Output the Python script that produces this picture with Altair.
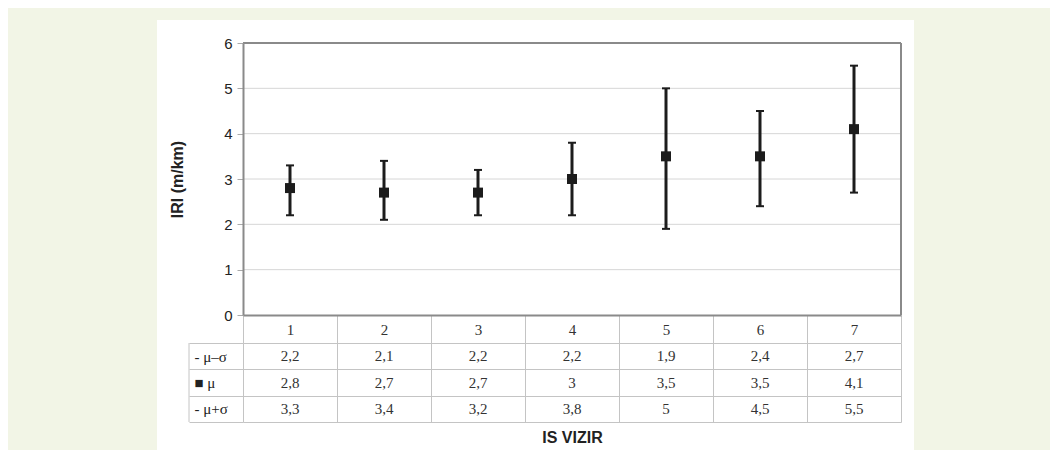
import altair as alt
import pandas as pd

cats = ["1", "2", "3", "4", "5", "6", "7"]
low = [2.2, 2.1, 2.2, 2.2, 1.9, 2.4, 2.7]
mean = [2.8, 2.7, 2.7, 3.0, 3.5, 3.5, 4.1]
high = [3.3, 3.4, 3.2, 3.8, 5.0, 4.5, 5.5]
y_ticks = [0, 1, 2, 3, 4, 5, 6]
row_labels = ["- μ–σ", "■ μ", "- μ+σ"]
y_title = "IRI (m/km)"
x_title = "IS VIZIR"


def fmt(v):
    return f"{v:g}".replace(".", ",")


df = pd.DataFrame({"cat": cats, "low": low, "mean": mean, "high": high})
rows = []
for lab, series in zip(row_labels, [low, mean, high]):
    for c, v in zip(cats, series):
        rows.append({"cat": c, "row": lab, "label": fmt(v)})
tdf = pd.DataFrame(rows)

W, H = 658, 272
TH = 79
GRIDC = "#d6d6d6"
TABC = "#c4c4c4"
AXC = "#8a8a8a"
INK = "#1c1c1c"
SANS = "Liberation Sans"
SERIF = "Liberation Serif"

xscale = alt.Scale(domain=cats, paddingInner=0, paddingOuter=0)
yscale = alt.Scale(domain=[0, 6], nice=False)

yaxis = alt.Axis(
    values=y_ticks,
    title=y_title,
    titleFont=SANS,
    titleFontSize=16,
    titleFontWeight="bold",
    titleColor="#222",
    titlePadding=38,
    labelFont=SANS,
    labelFontSize=15,
    labelColor="#222",
    labelPadding=5,
    tickSize=6,
    tickColor="#aaa",
    domainColor=AXC,
    domainWidth=2,
    grid=False,
    zindex=1,
)

xaxis_top = alt.Axis(
    title=None,
    labelFont=SERIF,
    labelFontSize=15,
    labelColor="#333",
    labelAngle=0,
    labelBaseline="middle",
    labelPadding=-14,
    tickBand="extent",
    tickSize=28,
    tickColor=TABC,
    tickWidth=1,
    domainColor=AXC,
    domainWidth=2,
    grid=False,
    zindex=1,
)

one = pd.DataFrame({"a": [0]})

panel = alt.Chart(one).mark_rect(fill="white").encode(
    x=alt.value(-86), x2=alt.value(671), y=alt.value(-23), y2=alt.value(407)
)

grid = alt.Chart(pd.DataFrame({"v": y_ticks[1:-1]})).mark_rule(
    color=GRIDC, strokeWidth=1
).encode(y=alt.Y("v:Q", scale=yscale, axis=yaxis))

top_border = alt.Chart(pd.DataFrame({"v": y_ticks[-1:]})).mark_rule(
    color=AXC, strokeWidth=2
).encode(y=alt.Y("v:Q", scale=yscale, axis=yaxis))

right_border = alt.Chart(one).mark_rule(color=AXC, strokeWidth=2).encode(
    x=alt.value(W), y=alt.value(0), y2=alt.value(H)
)

bars = alt.Chart(df).mark_rule(color=INK, strokeWidth=3).encode(
    x=alt.X("cat:N", scale=xscale, axis=xaxis_top, sort=cats),
    y=alt.Y("low:Q", scale=yscale, axis=yaxis),
    y2="high:Q",
)
cap_lo = alt.Chart(df).mark_tick(color=INK, size=8, thickness=2, opacity=1).encode(
    x=alt.X("cat:N", scale=xscale, axis=xaxis_top, sort=cats),
    y=alt.Y("low:Q", scale=yscale, axis=yaxis),
)
cap_hi = alt.Chart(df).mark_tick(color=INK, size=8, thickness=2, opacity=1).encode(
    x=alt.X("cat:N", scale=xscale, axis=xaxis_top, sort=cats),
    y=alt.Y("high:Q", scale=yscale, axis=yaxis),
)
pts = alt.Chart(df).mark_square(color=INK, size=100, opacity=1).encode(
    x=alt.X("cat:N", scale=xscale, axis=xaxis_top, sort=cats),
    y=alt.Y("mean:Q", scale=yscale, axis=yaxis),
)

top = alt.layer(panel, grid, top_border, right_border, bars, cap_lo, cap_hi, pts).properties(
    width=W, height=H
)

text = alt.Chart(tdf).mark_text(font=SERIF, fontSize=15, color="#333").encode(
    x=alt.X(
        "cat:N",
        scale=alt.Scale(domain=cats, paddingInner=0, paddingOuter=0),
        sort=cats,
        axis=alt.Axis(
            title=x_title,
            titleFont=SANS,
            titleFontSize=16,
            titleFontWeight="bold",
            titleColor="#222",
            titlePadding=7,
            labels=False,
            ticks=False,
            domain=False,
            grid=True,
            gridColor=TABC,
            gridWidth=1,
            tickBand="extent",
        ),
    ),
    y=alt.Y(
        "row:N",
        scale=alt.Scale(domain=row_labels, paddingInner=0, paddingOuter=0),
        sort=row_labels,
        axis=alt.Axis(
            title=None,
            grid=True,
            gridColor=TABC,
            gridWidth=1,
            tickBand="extent",
            tickSize=54,
            tickColor=TABC,
            tickWidth=1,
            labelAlign="left",
            labelPadding=-5,
            labelFont=SERIF,
            labelFontSize=15,
            labelColor="#222",
            domain=False,
        ),
    ),
    text="label:N",
)
left_border = alt.Chart(one).mark_rule(color=TABC, strokeWidth=1).encode(
    x=alt.value(-54), y=alt.value(0), y2=alt.value(TH)
)
table = alt.layer(text, left_border).properties(width=W, height=TH)

chart = (
    alt.vconcat(top, table, spacing=28, bounds="flush")
    .configure(background="#f2f5e6", padding={"left": 149, "top": 12, "right": 136, "bottom": 0})
    .configure_view(strokeWidth=0)
)

chart.save("out.html", embed_options={"renderer": "svg", "actions": False})
